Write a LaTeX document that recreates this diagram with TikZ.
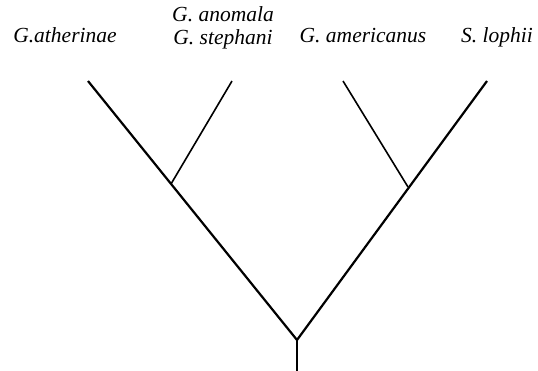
\documentclass[tikz,border=0pt]{standalone}
\usepackage{fontspec}
\setmainfont{Liberation Serif}
\begin{document}
\begin{tikzpicture}[x=1pt,y=-1pt,
  lbl/.style={inner sep=0pt,anchor=base,font=\fontsize{21.5}{24}\selectfont\itshape},
  main/.style={line width=2.2pt,black},
  inner/.style={line width=1.6pt,black},
  stem/.style={line width=2.8pt,black}]
\useasboundingbox (0,0) rectangle (538,370);
\coordinate (root) at (297,340);
\coordinate (base) at (297,372);
\coordinate (nL) at (171,184);
\coordinate (nR) at (408,187);
\coordinate (tA) at (88,81);
\coordinate (tB) at (232,81);
\coordinate (tC) at (343,81);
\coordinate (tD) at (487,81);
\draw[stem] (base) -- (root);
\draw[main,line join=miter] (tA) -- (root) -- (tD);
\draw[inner] (nL) -- (tB);
\draw[inner] (nR) -- (tC);
\node[lbl] (a) at (65,42) {G.atherinae};
\node[lbl] (b1) at (223,21) {G. anomala};
\node[lbl] (b2) at (223,44) {G. stephani};
\node[lbl] (c) at (363,42) {G. americanus};
\node[lbl] (d) at (497,42) {S. lophii};
\end{tikzpicture}
\end{document}
